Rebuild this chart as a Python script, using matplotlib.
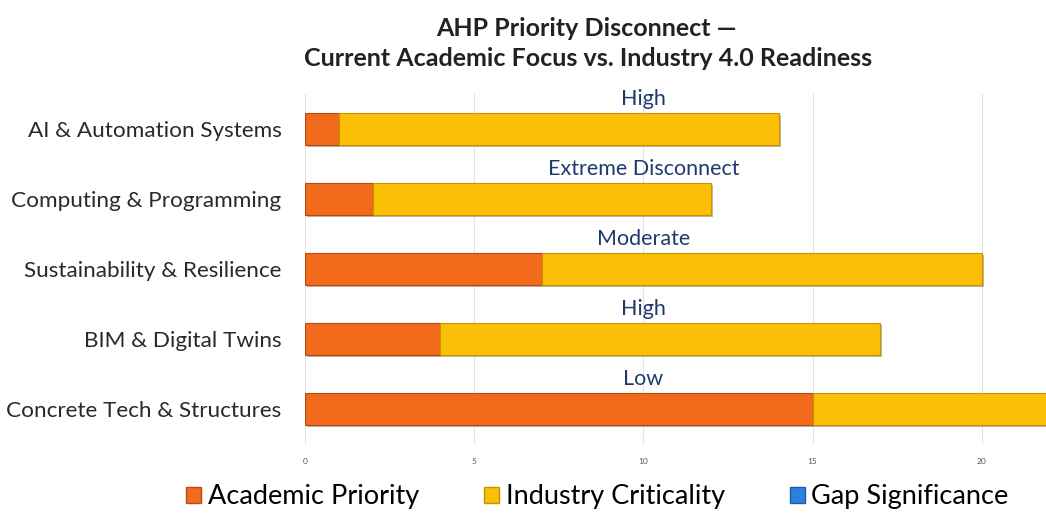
import matplotlib.pyplot as plt
import matplotlib.patheffects as pe
from matplotlib.patches import Patch
import numpy as np

plt.rcParams['font.family'] = ['Lato', 'DejaVu Sans']

categories = ["AI & Automation Systems", "Computing & Programming",
              "Sustainability & Resilience", "BIM & Digital Twins",
              "Concrete Tech & Structures"]
academic = [1, 2, 7, 4, 15]
industry = [13, 10, 13, 13, 10]
gap = [0, 0, 0, 0, 0]
gap_labels = ["High", "Extreme Disconnect", "Moderate", "High", "Low"]

c_acad = "#f26b1d"
c_ind = "#fbbf06"
c_gap = "#2f7fe0"

fig = plt.figure(figsize=(10.46, 5.16), dpi=100)
ax = fig.add_axes([0.2916, 0.1395, 0.7084, 0.678])

y = np.arange(len(categories))
shadow = [pe.SimplePatchShadow(offset=(1.5, -1.5), alpha=0.35), pe.Normal()]
ax.barh(y, academic, height=0.46, color=c_acad, edgecolor="#b84a10", linewidth=0.8,
        path_effects=shadow, zorder=3)
left2 = np.array(academic)
ax.barh(y, industry, left=left2, height=0.46, color=c_ind, edgecolor="#c89200",
        linewidth=0.8, path_effects=shadow, zorder=3)
left3 = left2 + np.array(industry)
ax.barh(y, gap, left=left3, height=0.46, color=c_gap, linewidth=0, zorder=3)

for yi, lab in zip(y, gap_labels):
    ax.text(10, yi - 0.29, lab, ha="center", va="bottom", fontsize=15.5,
            color="#1f3a6b", zorder=4)

ax.set_ylim(len(categories) - 0.5, -0.5)
ax.set_xlim(0, 21.9)
ax.set_xticks([0, 5, 10, 15, 20])
ax.tick_params(axis="x", labelsize=6, colors="#555555", length=0, pad=10)
ax.set_yticks(y)
ax.set_yticklabels(categories, fontsize=16.2, color="#2a2a2a")
ax.tick_params(axis="y", length=0, pad=17)
ax.grid(axis="x", color="#e3e3e3", linewidth=0.8, zorder=0)
for s in ax.spines.values():
    s.set_visible(False)

fig.text(0.561, 0.945, "AHP Priority Disconnect \u2014", ha="center", va="center",
         fontsize=18, fontweight="bold", color="#222222")
fig.text(0.562, 0.887, "Current Academic Focus vs. Industry 4.0 Readiness", ha="center",
         va="center", fontsize=18, fontweight="bold", color="#222222")

handles = [Patch(facecolor=c_acad, edgecolor="#b84a10"),
           Patch(facecolor=c_ind, edgecolor="#c89200"),
           Patch(facecolor=c_gap, edgecolor="#1c5cb0")]
fig.legend(handles, ["Academic Priority", "Industry Criticality", "Gap Significance"],
           loc="center", bbox_to_anchor=(0.571, 0.037), ncol=3, frameon=False,
           fontsize=19.5, handlelength=0.55, handleheight=0.55, handletextpad=0.25,
           columnspacing=2.4)

fig.savefig("out.png", dpi=100)
